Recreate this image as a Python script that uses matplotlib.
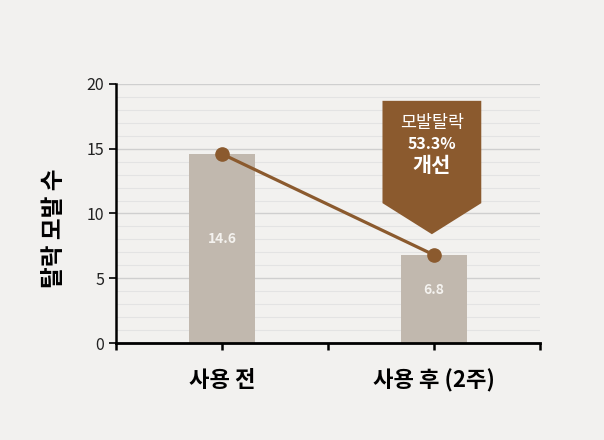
import matplotlib
matplotlib.use("Agg")
import matplotlib.pyplot as plt
from matplotlib.patches import Polygon
from matplotlib.ticker import MultipleLocator

plt.rcParams['font.family'] = ['Noto Sans CJK KR', 'DejaVu Sans']

categories = ['사용 전', '사용 후 (2주)']
values = [14.6, 6.8]
value_labels = ['14.6', '6.8']
y_ticks = [0, 5, 10, 15, 20]
y_label = '탈락 모발 수'
callout_lines = ['모발탈락', '53.3%', '개선']

bg = '#F2F1EF'
bar_color = '#C1B8AE'
brown = '#8B5A2E'

fig = plt.figure(figsize=(6.04, 4.40), dpi=100, facecolor=bg)
ax = fig.add_axes([116/604, 1-343/440, 424/604, 259/440])
ax.set_facecolor(bg)

xs = [0.5 + i for i in range(len(categories))]
ax.bar(xs, values, width=0.31, color=bar_color, zorder=2)
ax.plot(xs, values, color=brown, lw=2.3, marker='o', ms=9.5, zorder=4)

for x, v, lab in zip(xs, values, value_labels):
    ax.annotate(lab, (x, v/2), xytext=(0, 6.5), textcoords='offset points',
                ha='center', va='center', color='#F4F2EF', fontsize=10,
                fontweight='bold', zorder=5)

ax.set_xlim(0, 2)
ax.set_ylim(0, 20)
ax.set_yticks(y_ticks)
ax.yaxis.set_minor_locator(MultipleLocator(1))
ax.set_xticks([0, 0.5, 1, 1.5, 2])
ax.set_xticklabels(['', categories[0], '', categories[1], ''],
                   fontsize=16, fontweight='bold')
ax.tick_params(axis='x', length=5, width=1.8, pad=14, color='black')
ax.tick_params(axis='y', which='major', length=5, width=1.2, labelsize=11.5,
               color='black', labelcolor='#222222')
ax.tick_params(axis='y', which='minor', length=0)

ax.grid(axis='y', which='major', color='#CFCFCF', lw=1.0, zorder=0)
ax.grid(axis='y', which='minor', color='#E3E3E3', lw=0.8, zorder=0)
ax.set_axisbelow(True)

for s in ['top', 'right']:
    ax.spines[s].set_visible(False)
ax.spines['left'].set_linewidth(1.8)
ax.spines['bottom'].set_linewidth(2.0)

ax.set_ylabel(y_label, fontsize=17, fontweight='bold')
ax.yaxis.set_label_coords(-0.117, 0.444)

# callout arrow above second point
cx = xs[1] - 0.01
half_w = 0.233
top_y = 18.7
rect_bot = 10.8
tip_y = 8.4
poly = Polygon([(cx - half_w, top_y), (cx + half_w, top_y),
                (cx + half_w, rect_bot), (cx, tip_y),
                (cx - half_w, rect_bot)], closed=True,
               facecolor=brown, edgecolor='none', zorder=6, clip_on=False)
ax.add_patch(poly)
ax.text(cx, 16.95, callout_lines[0], ha='center', va='center', color='white',
        fontsize=12.5, zorder=7)
ax.text(cx, 15.4, callout_lines[1], ha='center', va='center', color='white',
        fontsize=11.5, fontweight='bold', zorder=7)
ax.text(cx, 13.7, callout_lines[2], ha='center', va='center', color='white',
        fontsize=15, fontweight='bold', zorder=7)

fig.savefig('out.png', dpi=100, facecolor=bg)
